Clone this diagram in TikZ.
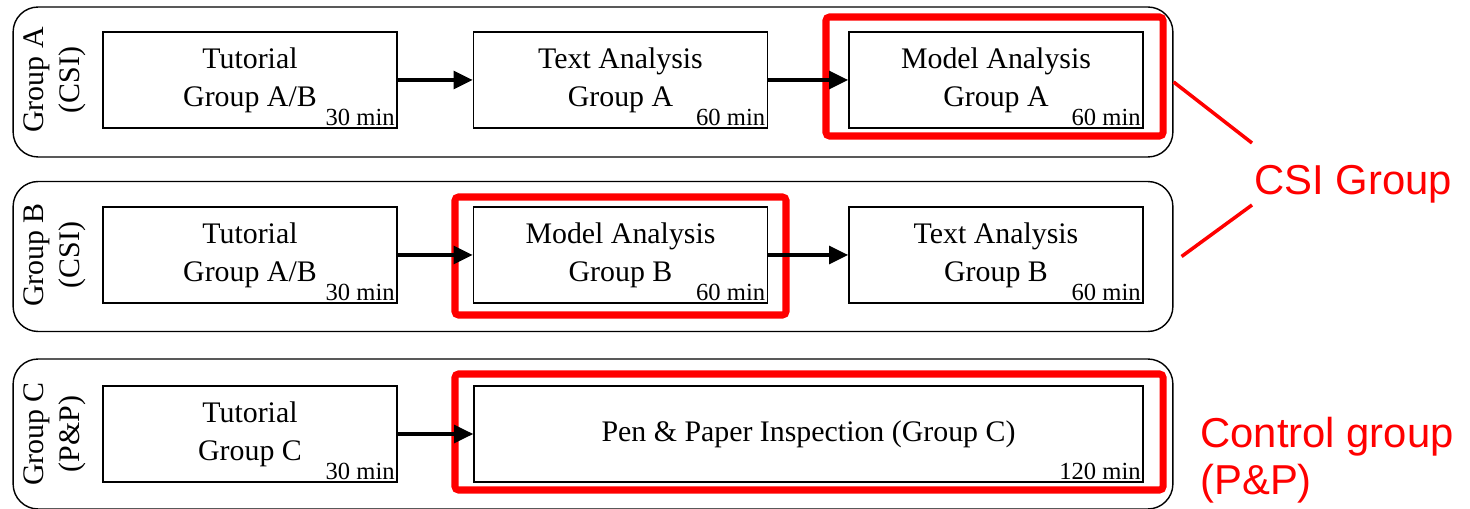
\documentclass[tikz,border=0pt]{standalone}
\usepackage{fontspec}
\setmainfont{Liberation Serif}
\newfontfamily\notefont{Liberation Sans}
\usetikzlibrary{arrows.meta}
\tikzset{
  lane/.style={draw, line width=0.8pt, rounded corners=0.5cm, minimum width=23.2cm, minimum height=3cm},
  task/.style={draw, line width=0.8pt, minimum width=5.88cm, minimum height=1.92cm, align=center, font=\fontsize{17}{21.5}\selectfont},
  dur/.style={anchor=south east, inner sep=1.5pt, font=\fontsize{14}{16}\selectfont},
  who/.style={rotate=90, align=center, font=\fontsize{17}{20.5}\selectfont},
  flow/.style={line width=2.3pt, -{Triangle[length=11pt,width=10pt]}},
  pick/.style={draw=red, line width=4pt, rounded corners=2pt},
  note/.style={text=red, align=left, inner sep=0pt, font=\notefont\fontsize{23.8}{27}\selectfont},
  callout/.style={red, line width=2pt}
}
\begin{document}
\begin{tikzpicture}[x=0.02cm,y=-0.02cm]
\useasboundingbox (0,0) rectangle (1470,509);
% group A
\node[lane] (rowA) at (593,82) {};
\node[who] (labA) at (55,80) {Group A\\(CSI)};
\node[task] (tutA) at (250,80) {Tutorial\\Group A/B};
\node[task] (textA) at (620.5,80) {Text Analysis\\Group A};
\node[task] (modA) at (996,80) {Model Analysis\\Group A};
\node[dur] (tutAt) at (tutA.south east) {30 min};
\node[dur] (textAt) at (textA.south east) {60 min};
\node[dur] (modAt) at (modA.south east) {60 min};
\draw[pick] (826,17) rectangle (1163,136);
\draw[flow] (tutA) -- (textA);
\draw[flow] (textA) -- (modA);
% group B
\node[lane] (rowB) at (593,256.5) {};
\node[who] (labB) at (55,255) {Group B\\(CSI)};
\node[task] (tutB) at (250,255) {Tutorial\\Group A/B};
\node[task] (modB) at (620.5,255) {Model Analysis\\Group B};
\node[task] (textB) at (996,255) {Text Analysis\\Group B};
\node[dur] (tutBt) at (tutB.south east) {30 min};
\node[dur] (modBt) at (modB.south east) {60 min};
\node[dur] (textBt) at (textB.south east) {60 min};
\draw[pick] (455,197) rectangle (786,315);
\draw[flow] (tutB) -- (modB);
\draw[flow] (modB) -- (textB);
% group C
\node[lane] (rowC) at (593,434) {};
\node[who] (labC) at (55,434) {Group C\\(P\&P)};
\node[task] (tutC) at (250,434) {Tutorial\\Group C};
\node[task, minimum width=13.38cm] (penC) at (808.5,434) {Pen \& Paper Inspection (Group C)};
\node[dur] (tutCt) at (tutC.south east) {30 min};
\node[dur] (penCt) at (penC.south east) {120 min};
\draw[pick] (455,374) rectangle (1163,490);
\draw[flow] (tutC) -- (penC);
% labels
\node[note, anchor=base west] (csi) at (1254,195) {CSI Group};
\coordinate (csiTop) at (1252,143);
\coordinate (csiBot) at (1252,205);
\draw[callout] (rowA.east) -- (csiTop);
\draw[callout] ([xshift=0.16cm]rowB.east) -- (csiBot);
\node[note, anchor=base west] (ctrl) at (1200,495) {Control group\\(P\&P)};
\end{tikzpicture}
\end{document}
